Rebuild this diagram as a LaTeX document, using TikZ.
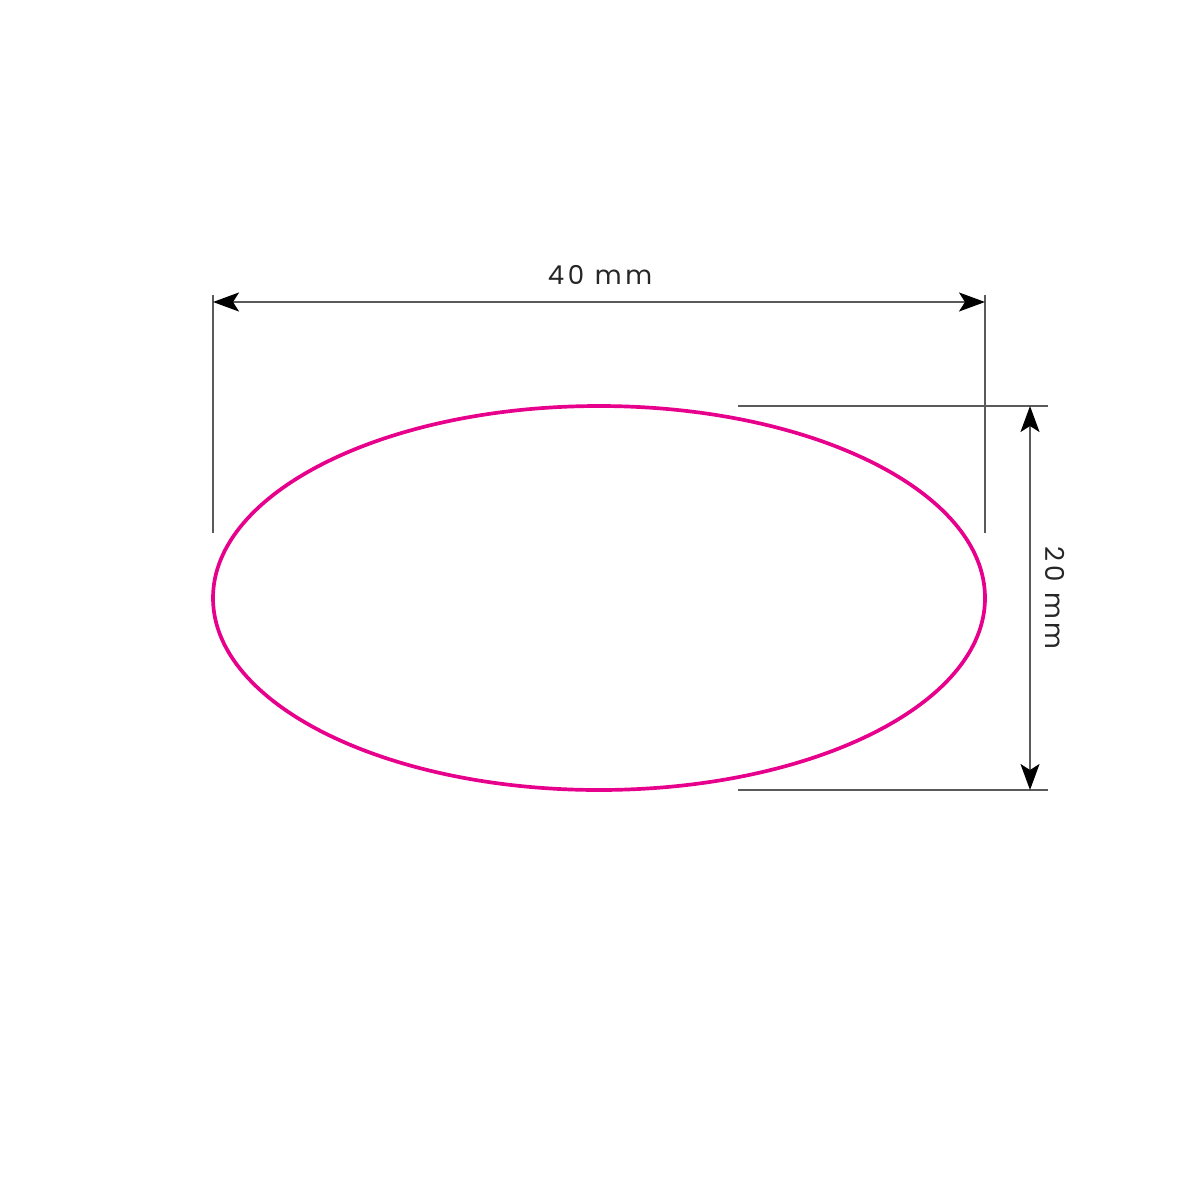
\documentclass[tikz,border=0pt]{standalone}
\usepackage{fontspec}
\setmainfont{Poppins}
\usetikzlibrary{arrows.meta}
\definecolor{mag}{RGB}{230,0,140}
\definecolor{dimgray}{RGB}{90,90,90}
\begin{document}
\begin{tikzpicture}[x=0.01cm,y=-0.01cm,
  extline/.style={draw=dimgray,line width=0.4pt},
  dimline/.style={draw=dimgray,line width=0.45pt,{Stealth[length=0.26cm,width=0.19cm,inset=0.06cm,black]}-{Stealth[length=0.26cm,width=0.19cm,inset=0.06cm,black]}},
  dimtext/.style={font=\fontsize{7.4}{8}\selectfont\addfontfeature{LetterSpace=14},text=black!85,inner sep=0pt}]
\useasboundingbox (0,0) rectangle (1200,1200);
\draw[mag,line width=1.05pt] (599,598) ellipse [x radius=386, y radius=192];
% horizontal dimension
\coordinate (hl1) at (213,295); \coordinate (hl2) at (213,533);
\coordinate (hr1) at (985,295); \coordinate (hr2) at (985,533);
\draw[extline] (hl1) -- (hl2);
\draw[extline] (hr1) -- (hr2);
\coordinate (ha) at (213,302); \coordinate (hb) at (985,302);
\draw[dimline] (ha) -- (hb);
\node[dimtext] (t40) at (600,275) {40 mm};
% vertical dimension
\coordinate (vt1) at (738,406); \coordinate (vt2) at (1048,406);
\coordinate (vb1) at (738,790); \coordinate (vb2) at (1048,790);
\draw[extline] (vt1) -- (vt2);
\draw[extline] (vb1) -- (vb2);
\coordinate (va) at (1030,406); \coordinate (vb) at (1030,790);
\draw[dimline] (va) -- (vb);
\node[dimtext,rotate=-90] (t20) at (1055,598) {20 mm};
\end{tikzpicture}
\end{document}
